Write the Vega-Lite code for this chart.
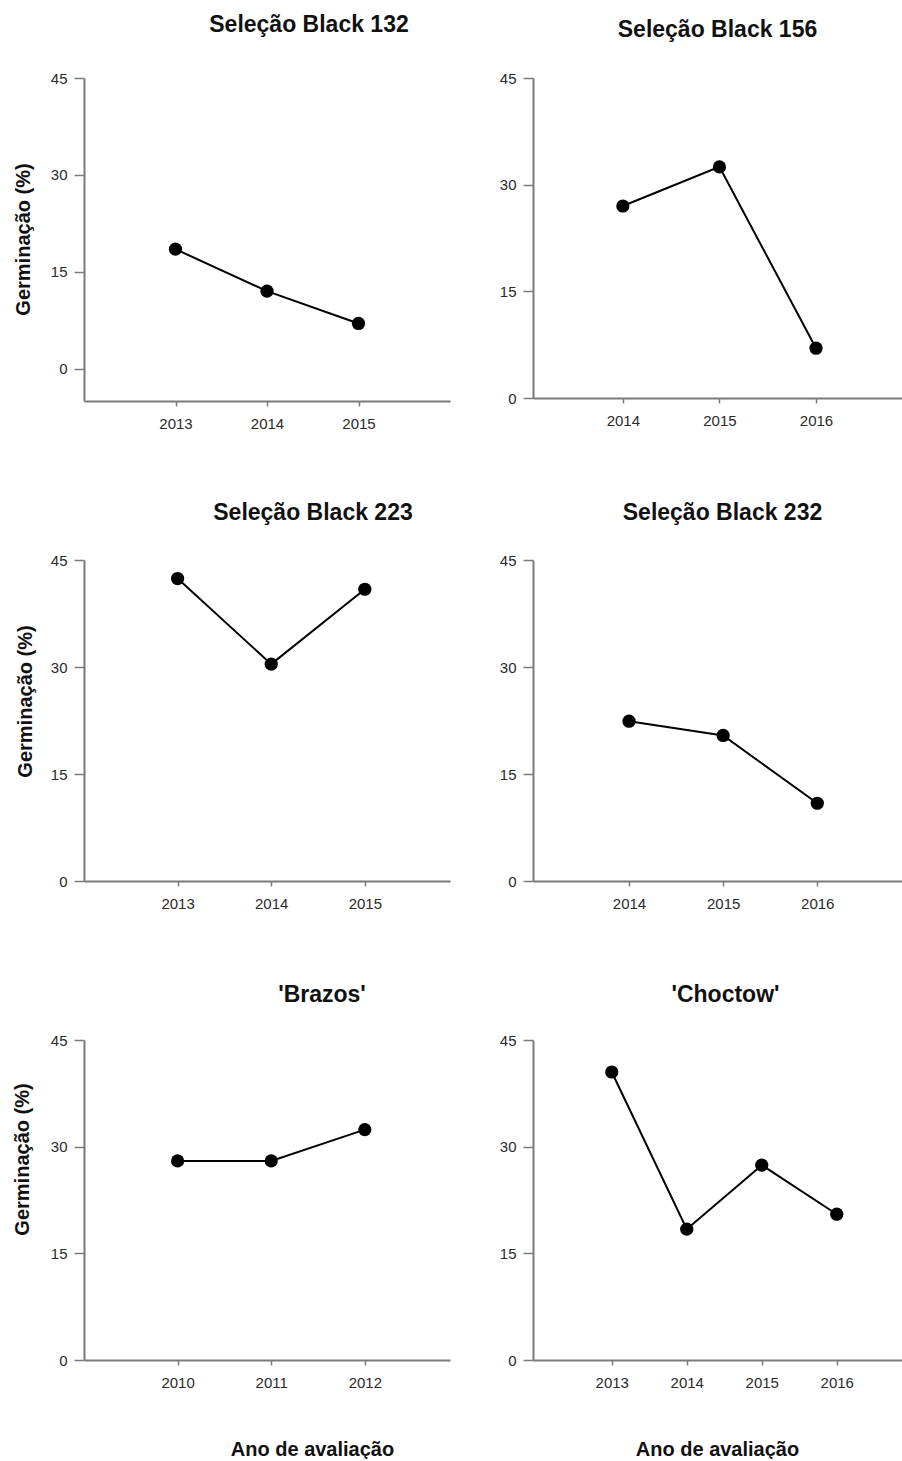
{
  "$schema": "https://vega.github.io/schema/vega-lite/v6.json",
  "background": "white",
  "padding": {"left": 11, "top": 14, "right": 0, "bottom": 0},
  "datasets": {
    "germ": [
      {"cultivar": "Seleção Black 132", "ano": 2013, "germinacao": 18.5},
      {"cultivar": "Seleção Black 132", "ano": 2014, "germinacao": 12.0},
      {"cultivar": "Seleção Black 132", "ano": 2015, "germinacao": 7.0},
      {"cultivar": "Seleção Black 156", "ano": 2014, "germinacao": 27.0},
      {"cultivar": "Seleção Black 156", "ano": 2015, "germinacao": 32.5},
      {"cultivar": "Seleção Black 156", "ano": 2016, "germinacao": 7.0},
      {"cultivar": "Seleção Black 223", "ano": 2013, "germinacao": 42.4},
      {"cultivar": "Seleção Black 223", "ano": 2014, "germinacao": 30.4},
      {"cultivar": "Seleção Black 223", "ano": 2015, "germinacao": 40.9},
      {"cultivar": "Seleção Black 232", "ano": 2014, "germinacao": 22.4},
      {"cultivar": "Seleção Black 232", "ano": 2015, "germinacao": 20.4},
      {"cultivar": "Seleção Black 232", "ano": 2016, "germinacao": 10.9},
      {"cultivar": "'Brazos'", "ano": 2010, "germinacao": 28.0},
      {"cultivar": "'Brazos'", "ano": 2011, "germinacao": 28.0},
      {"cultivar": "'Brazos'", "ano": 2012, "germinacao": 32.4},
      {"cultivar": "'Choctow'", "ano": 2013, "germinacao": 40.5},
      {"cultivar": "'Choctow'", "ano": 2014, "germinacao": 18.4},
      {"cultivar": "'Choctow'", "ano": 2015, "germinacao": 27.4},
      {"cultivar": "'Choctow'", "ano": 2016, "germinacao": 20.5}
    ]
  },
  "columns": 2,
  "bounds": "flush",
  "align": "each",
  "spacing": {"row": 159, "column": 83},
  "concat": [
    {
      "width": 366, "height": 323,
      "title": {"text": "Seleção Black 132", "dx": 42, "offset": 34},
      "data": {"name": "germ"},
      "transform": [{"filter": "datum.cultivar === 'Seleção Black 132'"}],
      "encoding": {
        "x": {"field": "ano", "type": "quantitative", "scale": {"domain": [2012, 2016], "nice": false, "zero": false},
              "axis": {"values": [2013, 2014, 2015], "format": "d", "title": null}},
        "y": {"field": "germinacao", "type": "quantitative", "scale": {"domain": [-5, 45], "nice": false, "zero": false},
              "axis": {"values": [0, 15, 30, 45], "title": "Germinação (%)", "titleX": -55, "titleY": 161, "titleBaseline": "alphabetic"}}
      },
      "layer": [
        {"mark": {"type": "line", "color": "black", "strokeWidth": 2}},
        {"mark": {"type": "point", "filled": true, "color": "black", "opacity": 1, "size": 175}}
      ]
    },
    {
      "width": 369, "height": 320,
      "title": {"text": "Seleção Black 156", "dx": 0, "offset": 29},
      "data": {"name": "germ"},
      "transform": [{"filter": "datum.cultivar === 'Seleção Black 156'"}],
      "encoding": {
        "x": {"field": "ano", "type": "quantitative", "scale": {"domain": [2013.07, 2016.89], "nice": false, "zero": false},
              "axis": {"values": [2014, 2015, 2016], "format": "d", "title": null}},
        "y": {"field": "germinacao", "type": "quantitative", "scale": {"domain": [0, 45], "nice": false},
              "axis": {"values": [0, 15, 30, 45], "title": null}}
      },
      "layer": [
        {"mark": {"type": "line", "color": "black", "strokeWidth": 2}},
        {"mark": {"type": "point", "filled": true, "color": "black", "opacity": 1, "size": 175}}
      ]
    },
    {
      "width": 366, "height": 321,
      "title": {"text": "Seleção Black 223", "dx": 46, "offset": 28},
      "data": {"name": "germ"},
      "transform": [{"filter": "datum.cultivar === 'Seleção Black 223'"}],
      "encoding": {
        "x": {"field": "ano", "type": "quantitative", "scale": {"domain": [2012, 2015.91], "nice": false, "zero": false},
              "axis": {"values": [2013, 2014, 2015], "format": "d", "title": null}},
        "y": {"field": "germinacao", "type": "quantitative", "scale": {"domain": [0, 45], "nice": false},
              "axis": {"values": [0, 15, 30, 45], "title": "Germinação (%)", "titleX": -53, "titleY": 141, "titleBaseline": "alphabetic"}}
      },
      "layer": [
        {"mark": {"type": "line", "color": "black", "strokeWidth": 2}},
        {"mark": {"type": "point", "filled": true, "color": "black", "opacity": 1, "size": 175}}
      ]
    },
    {
      "width": 369, "height": 321,
      "title": {"text": "Seleção Black 232", "dx": 5, "offset": 28},
      "data": {"name": "germ"},
      "transform": [{"filter": "datum.cultivar === 'Seleção Black 232'"}],
      "encoding": {
        "x": {"field": "ano", "type": "quantitative", "scale": {"domain": [2012.98, 2016.9], "nice": false, "zero": false},
              "axis": {"values": [2014, 2015, 2016], "format": "d", "title": null}},
        "y": {"field": "germinacao", "type": "quantitative", "scale": {"domain": [0, 45], "nice": false},
              "axis": {"values": [0, 15, 30, 45], "title": null}}
      },
      "layer": [
        {"mark": {"type": "line", "color": "black", "strokeWidth": 2}},
        {"mark": {"type": "point", "filled": true, "color": "black", "opacity": 1, "size": 175}}
      ]
    },
    {
      "width": 366, "height": 320,
      "title": {"text": "'Brazos'", "dx": 55, "offset": 26},
      "data": {"name": "germ"},
      "transform": [{"filter": "datum.cultivar === \"'Brazos'\""}],
      "encoding": {
        "x": {"field": "ano", "type": "quantitative", "scale": {"domain": [2009, 2012.91], "nice": false, "zero": false},
              "axis": {"values": [2010, 2011, 2012], "format": "d", "title": "Ano de avaliação", "titleX": 228, "titleY": 95, "titleBaseline": "alphabetic"}},
        "y": {"field": "germinacao", "type": "quantitative", "scale": {"domain": [0, 45], "nice": false},
              "axis": {"values": [0, 15, 30, 45], "title": "Germinação (%)", "titleX": -56, "titleY": 119, "titleBaseline": "alphabetic"}}
      },
      "layer": [
        {"mark": {"type": "line", "color": "black", "strokeWidth": 2}},
        {"mark": {"type": "point", "filled": true, "color": "black", "opacity": 1, "size": 175}}
      ]
    },
    {
      "width": 369, "height": 320,
      "title": {"text": "'Choctow'", "dx": 8, "offset": 26},
      "data": {"name": "germ"},
      "transform": [{"filter": "datum.cultivar === \"'Choctow'\""}],
      "encoding": {
        "x": {"field": "ano", "type": "quantitative", "scale": {"domain": [2011.95, 2016.87], "nice": false, "zero": false},
              "axis": {"values": [2013, 2014, 2015, 2016], "format": "d", "title": "Ano de avaliação", "titleX": 184, "titleY": 95, "titleBaseline": "alphabetic"}},
        "y": {"field": "germinacao", "type": "quantitative", "scale": {"domain": [0, 45], "nice": false},
              "axis": {"values": [0, 15, 30, 45], "title": null}}
      },
      "layer": [
        {"mark": {"type": "line", "color": "black", "strokeWidth": 2}},
        {"mark": {"type": "point", "filled": true, "color": "black", "opacity": 1, "size": 175}}
      ]
    }
  ],
  "config": {
    "view": {"stroke": null},
    "font": "Liberation Sans",
    "axis": {
      "grid": false,
      "domainColor": "#7a7a7a",
      "domainWidth": 2,
      "tickColor": "#7a7a7a",
      "tickWidth": 1.5,
      "labelFont": "Liberation Sans",
      "labelFontSize": 15,
      "labelColor": "#2a2a2a",
      "titleFont": "Liberation Sans",
      "titleFontSize": 20,
      "titleFontWeight": "bold",
      "titleColor": "#111111"
    },
    "axisX": {"tickSize": 5, "labelPadding": 10, "labelAngle": 0},
    "axisY": {"tickSize": 10, "labelPadding": 7},
    "title": {"font": "Liberation Sans", "fontSize": 23, "fontWeight": "bold", "color": "#111111", "baseline": "alphabetic", "frame": "group", "anchor": "middle"}
  }
}
